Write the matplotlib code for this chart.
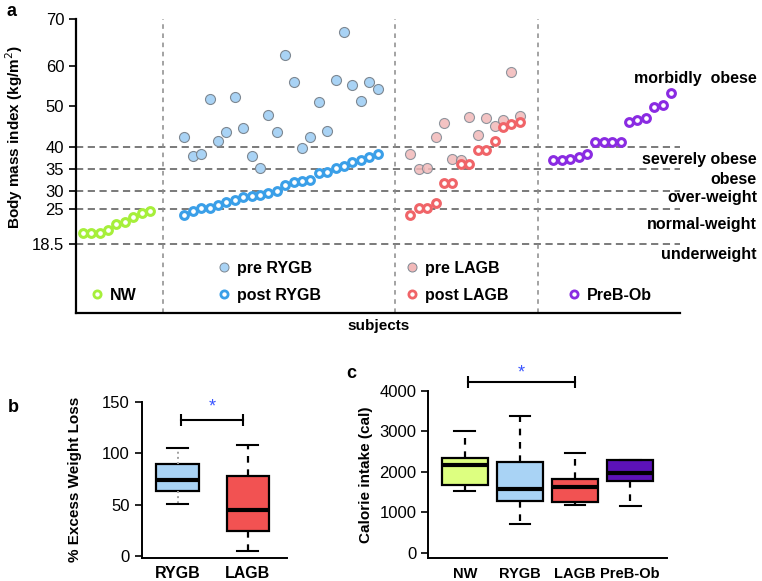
import numpy as np
import matplotlib
matplotlib.use('Agg')
import matplotlib.pyplot as plt
from matplotlib.lines import Line2D

plt.rcParams['font.family'] = ['Liberation Sans', 'DejaVu Sans']

# ---- panel a : BMI per subject ----
nw_bmi = [20.5, 20.5, 20.6, 21.1, 22.2, 22.7, 23.6, 24.3, 24.7]
pre_rygb = [42.5, 38.0, 38.5, 51.8, 41.4, 43.7, 52.3, 44.7, 38.0, 35.4, 47.8, 43.7,
            62.3, 56.1, 39.8, 42.5, 51.1, 43.9, 56.5, 67.3, 55.4, 51.3, 56.1, 54.3]
post_rygb = [23.9, 24.7, 25.3, 25.4, 26.2, 27.0, 27.6, 28.3, 28.5, 28.9, 29.4, 30.0,
             31.4, 32.0, 32.4, 32.6, 34.1, 34.4, 35.4, 35.8, 36.7, 37.2, 37.8, 38.4]
pre_lagb = [38.4, 35.0, 35.4, 42.3, 45.9, 37.3, 37.1, 47.4, 42.8, 47.2, 45.2, 46.7, 58.6, 47.5]
post_lagb = [23.9, 25.3, 25.4, 26.8, 31.9, 31.9, 36.2, 36.2, 39.4, 39.4, 41.4, 44.8, 45.7, 46.1]
preb_ob = [37.1, 37.1, 37.3, 37.8, 38.5, 41.2, 41.2, 41.2, 41.2, 46.1, 46.7, 47.2, 49.7, 50.3, 53.4]

bmi_ticks = [18.5, 25, 30, 35, 40, 50, 60, 70]
cutoffs = [18.5, 25, 30, 35, 40]
class_names = ['morbidly  obese', 'severely obese', 'obese', 'over-weight',
               'normal-weight', 'underweight']

# ---- panel b : % excess weight loss ----
ewl_groups = ['RYGB', 'LAGB']
ewl_med = [74.2, 45.1]
ewl_q1 = [62.7, 24.3]
ewl_q3 = [89.5, 78.0]
ewl_lo = [50.2, 5.1]
ewl_hi = [104.6, 107.8]

# ---- panel c : calorie intake ----
cal_groups = ['NW', 'RYGB', 'LAGB', 'PreB-Ob']
cal_med = [2165, 1573, 1615, 1975]
cal_q1 = [1672, 1284, 1244, 1778]
cal_q3 = [2331, 2247, 1820, 2289]
cal_lo = [1531, 701, 1185, 1153]
cal_hi = [3012, 3375, 2454, 2289]

# colours
c_nw = '#a6ef3a'
c_rygb = '#3a9fe8'
c_rygb_pre = '#a9d3f5'
c_lagb = '#f06468'
c_lagb_pre = '#f2b9b9'
c_preb = '#8a2be2'
grey_edge = '#7d8791'

# piecewise (non-linear) BMI axis
knot_bmi = np.array(bmi_ticks, float)
knot_pos = np.array([0, 34.7, 53.3, 74.7, 97.3, 138, 178, 225], float)
lo_slope = (knot_pos[1] - knot_pos[0]) / (knot_bmi[1] - knot_bmi[0])
hi_slope = (knot_pos[-1] - knot_pos[-2]) / (knot_bmi[-1] - knot_bmi[-2])


def fwd(v):
    v = np.asarray(v, float)
    out = np.interp(v, knot_bmi, knot_pos)
    out = np.where(v < knot_bmi[0], knot_pos[0] + (v - knot_bmi[0]) * lo_slope, out)
    out = np.where(v > knot_bmi[-1], knot_pos[-1] + (v - knot_bmi[-1]) * hi_slope, out)
    return out


def inv(p):
    p = np.asarray(p, float)
    out = np.interp(p, knot_pos, knot_bmi)
    out = np.where(p < knot_pos[0], knot_bmi[0] + (p - knot_pos[0]) / lo_slope, out)
    out = np.where(p > knot_pos[-1], knot_bmi[-1] + (p - knot_pos[-1]) / hi_slope, out)
    return out


fig = plt.figure(figsize=(7.62, 5.81), dpi=100)

# -------------------
# ---- panel a ------
# -------------------
ax = fig.add_axes([0.0997, 0.461, 0.793, 0.506])
ax.set_yscale('function', functions=(fwd, inv))
ax.set_ylim(5.57, 70)
ax.set_xlim(0, 71.9)

x_nw = 0.8 + np.arange(len(nw_bmi))
x_rygb = 12.9 + np.arange(len(post_rygb))
x_lagb = 39.8 + np.arange(len(post_lagb))
x_preb = 56.8 + np.arange(len(preb_ob))

for c in cutoffs:
    ax.axhline(c, color='#707070', ls=(0, (4, 2.5)), lw=1.3, zorder=1)
for xd in [10.36, 37.98, 54.95]:
    ax.axvline(xd, color='#8a8a8a', ls=(0, (3, 3)), lw=1.1, zorder=1)

open_kw = dict(ls='none', marker='o', mfc='white', ms=5.6, mew=2.2, zorder=4)
fill_kw = dict(ls='none', marker='o', ms=7.2, mew=0.8, mec=grey_edge, zorder=3)

ax.plot(x_nw, nw_bmi, mec=c_nw, **open_kw)
ax.plot(x_rygb, pre_rygb, mfc=c_rygb_pre, **fill_kw)
ax.plot(x_rygb, post_rygb, mec=c_rygb, **open_kw)
ax.plot(x_lagb, pre_lagb, mfc=c_lagb_pre, alpha=0.85, **fill_kw)
ax.plot(x_lagb, post_lagb, mec=c_lagb, **open_kw)
ax.plot(x_preb, preb_ob, mec=c_preb, **open_kw)

ax.set_yticks(bmi_ticks)
ax.set_yticklabels(['18.5', '25', '30', '35', '40', '50', '60', '70'], fontsize=12)
ax.set_xticks([])
ax.tick_params(axis='y', length=5, width=1.2)
for s in ['top', 'right']:
    ax.spines[s].set_visible(False)
ax.spines['left'].set_linewidth(1.6)
ax.spines['bottom'].set_linewidth(1.6)

ax.set_ylabel('Body mass index (kg/m$^2$)', fontweight='bold', fontsize=11)
ax.yaxis.set_label_coords(-0.084, 0.6)
ax.set_xlabel('subjects', fontweight='bold', fontsize=11, labelpad=4)

class_y = [57, 37.1, 32.7, 28.3, 22.1, 16.6]
for name, yv in zip(class_names, class_y):
    ax.text(1.127, yv, name, transform=ax.get_yaxis_transform(), ha='right',
            va='center', fontweight='bold', fontsize=11.5)

# legends
def h_open(col):
    return Line2D([], [], ls='none', marker='o', mfc='white', mec=col, ms=5.2, mew=2.0)


def h_fill(col):
    return Line2D([], [], ls='none', marker='o', mfc=col, mec=grey_edge, ms=6.5, mew=0.7)


leg_kw = dict(loc='center left', frameon=False, prop=dict(weight='bold', size=11.5),
              handlelength=0.8, handletextpad=0.4, borderpad=0, borderaxespad=0,
              labelspacing=0.75)
leg1 = ax.legend([h_open(c_nw)], ['NW'], bbox_to_anchor=(0.025, 0.061), **leg_kw)
ax.add_artist(leg1)
leg2 = ax.legend([h_fill(c_rygb_pre), h_open(c_rygb)], ['pre RYGB', 'post RYGB'],
                 bbox_to_anchor=(0.235, 0.107), **leg_kw)
ax.add_artist(leg2)
leg3 = ax.legend([h_fill(c_lagb_pre), h_open(c_lagb)], ['pre LAGB', 'post LAGB'],
                 bbox_to_anchor=(0.546, 0.107), **leg_kw)
ax.add_artist(leg3)
ax.legend([h_open(c_preb)], ['PreB-Ob'], bbox_to_anchor=(0.813, 0.061), **leg_kw)


# -------------------
# ---- box panels ---
# -------------------
def draw_box(axb, groups, med, q1, q3, lo, hi, colors, width, capw, xsize):
    stats = []
    for g, m, a, b, l, h in zip(groups, med, q1, q3, lo, hi):
        stats.append(dict(label=g, med=m, q1=a, q3=b, whislo=l, whishi=h))
    pos = np.arange(1, len(groups) + 1)
    bp = axb.bxp(stats, positions=pos, widths=width, patch_artist=True,
                 showfliers=False, capwidths=capw,
                 boxprops=dict(linewidth=1.6, edgecolor='black'),
                 medianprops=dict(color='black', linewidth=3),
                 capprops=dict(color='black', linewidth=1.5),
                 whiskerprops=dict(color='black', linewidth=1.6, linestyle=(0, (3, 3))))
    for patch, col in zip(bp['boxes'], colors):
        patch.set_facecolor(col)
    for s in ['top', 'right']:
        axb.spines[s].set_visible(False)
    axb.spines['left'].set_linewidth(1.4)
    axb.spines['bottom'].set_linewidth(1.4)
    axb.tick_params(axis='x', length=0, pad=6, labelsize=xsize)
    axb.tick_params(axis='y', length=5, width=1.2, labelsize=12)
    for lab in axb.get_xticklabels():
        lab.set_fontweight('bold')
    return bp


def bracket(axb, x1, x2, y, ystar, ms):
    axb.plot([x1, x2], [y, y], color='black', lw=1.5, clip_on=False)
    axb.plot([x1, x2], [y, y], ls='none', marker='|', ms=ms, mew=1.5,
             color='black', clip_on=False)
    axb.text((x1 + x2) / 2, ystar, '*', color='#3a55ff', ha='center', va='center',
             fontsize=13, clip_on=False)


# panel b
axb = fig.add_axes([0.186, 0.0396, 0.190, 0.269])
bp = draw_box(axb, ewl_groups, ewl_med, ewl_q1, ewl_q3, ewl_lo, ewl_hi,
              [c_rygb_pre, '#f25252'], 0.6, 0.3, 11.5)
for w in bp['whiskers'][:2]:
    w.set_color('#a0a0a0')
    w.set_linestyle(':')
    w.set_linewidth(1.4)
axb.set_xlim(0.49, 2.55)
axb.set_ylim(-2, 150)
axb.set_yticks([0, 50, 100, 150])
axb.set_ylabel('% Excess Weight Loss', fontweight='bold', fontsize=11)
axb.yaxis.set_label_coords(-0.41, 0.5)
bracket(axb, 1.05, 1.93, 132.4, 145, 8)

# panel c
axc = fig.add_axes([0.562, 0.039, 0.313, 0.2885])
draw_box(axc, cal_groups, cal_med, cal_q1, cal_q3, cal_lo, cal_hi,
         ['#ddff80', c_rygb_pre, '#f25252', '#5c12b8'], 0.82, 0.38, 10.5)
axc.set_xlim(0.333, 4.667)
axc.set_ylim(-138, 4000)
axc.set_yticks([0, 1000, 2000, 3000, 4000])
axc.set_ylabel('Calorie intake (cal)', fontweight='bold', fontsize=11)
axc.yaxis.set_label_coords(-0.23, 0.5)
bracket(axc, 1.05, 3.0, 4206, 4430, 8)

# panel letters
fig.text(0.008, 0.995, 'a', fontweight='bold', fontsize=13, va='top')
fig.text(0.010, 0.298, 'b', fontweight='bold', fontsize=13, va='center')
fig.text(0.455, 0.358, 'c', fontweight='bold', fontsize=13, va='center')

fig.savefig('out.png', dpi=100)
